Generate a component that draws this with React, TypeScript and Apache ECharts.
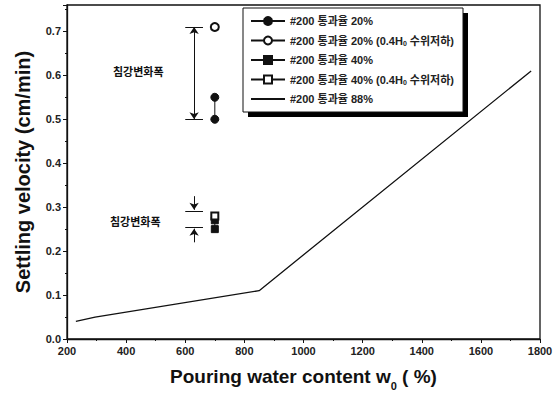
import React, { useEffect, useRef } from "react";
import * as echarts from "echarts";

const FONT = "'Liberation Sans', Arial, 'Noto Sans CJK KR', sans-serif";

// Series data [pouring water content %, settling velocity cm/min]
const pass20: [number, number][] = [[700, 0.55], [700, 0.50]];
const pass20Low: [number, number][] = [[700, 0.71]];
const pass40: [number, number][] = [[700, 0.27], [700, 0.25]];
const pass40Low: [number, number][] = [[700, 0.28]];
const pass88: [number, number][] = [[230, 0.04], [295, 0.05], [850, 0.11], [1770, 0.61]];

const seriesNames = [
  "#200 통과율 20%",
  "#200 통과율 20% (0.4H₀ 수위저하)",
  "#200 통과율 40%",
  "#200 통과율 40% (0.4H₀ 수위저하)",
  "#200 통과율 88%",
];

// Annotation brackets (data coords)
const bigRange = { x: 630, top: 0.71, bottom: 0.50, x0: 600, x1: 660 };
const smallRange = { x: 630, top: 0.29, bottom: 0.255, x0: 600, x1: 660, arrowLen: 0.035 };
const annotationLabel = "침강변화폭";

export default function App() {
  const ref = useRef<HTMLDivElement>(null);
  useEffect(() => {
    if (!ref.current) return;
    const chart = echarts.init(ref.current, undefined, { renderer: "svg" });
    const black = "#111";
    const lineSeries = (name: string, data: [number, number][], symbol: string, size: number) => ({
      name,
      type: "line",
      data,
      symbol,
      symbolSize: size,
      lineStyle: { color: black, width: 1 },
      itemStyle: { color: black, borderColor: black, borderWidth: 1 },
    });
    const plain = { type: "solid", color: black, width: 1 };
    const ml = (a: [number, number], b: [number, number], s0: string, s1: string) => [
      { coord: a, symbol: s0 },
      { coord: b, symbol: s1 },
    ];
    chart.setOption({
      animation: false,
      backgroundColor: "#fff",
      textStyle: { fontFamily: FONT },
      grid: { left: 67, right: 16, top: 5, bottom: 59, show: true, borderColor: black, borderWidth: 1.3, backgroundColor: "transparent" },
      legend: {
        data: seriesNames.map((n, i) => (i === 4 ? { name: n, itemStyle: { opacity: 0 } } : { name: n })),
        orient: "vertical",
        left: 243,
        top: 8,
        itemWidth: 34,
        itemHeight: 10,
        itemGap: 7.5,
        padding: [7, 9, 7, 7],
        backgroundColor: "#fff",
        borderColor: black,
        borderWidth: 1,
        formatter: (name: string) => name.replace("₀", "{sub|0}"),
        textStyle: {
          fontFamily: FONT,
          fontSize: 11,
          lineHeight: 12,
          fontWeight: "bold",
          color: "#222",
          rich: {
            sub: { fontFamily: FONT, fontSize: 7, lineHeight: 5, fontWeight: "bold", color: "#222", verticalAlign: "bottom" },
          },
        },
      },
      xAxis: {
        type: "value",
        min: 200,
        max: 1800,
        interval: 200,
        name: "Pouring water content w{sub|0} ( %)",
        nameLocation: "middle",
        nameGap: 21,
        nameTextStyle: {
          fontSize: 19,
          lineHeight: 31,
          fontWeight: "bold",
          color: "#111",
          fontFamily: FONT,
          rich: { sub: { fontSize: 11, lineHeight: 11, fontWeight: "bold", color: "#111", fontFamily: FONT, verticalAlign: "bottom" } },
        },
        axisLine: { show: true, lineStyle: { color: black, width: 1.3 } },
        axisTick: { show: true, inside: false, length: 4, lineStyle: { color: black } },
        minorTick: { show: true, splitNumber: 2, length: 2, lineStyle: { color: black } },
        splitLine: { show: false },
        axisLabel: { fontSize: 11, fontWeight: "bold", color: "#222", margin: 6, formatter: (v: number) => String(v) },
      },
      yAxis: {
        type: "value",
        min: 0,
        max: 0.76,
        interval: 0.1,
        name: "Settling velocity (cm/min)",
        nameLocation: "middle",
        nameGap: 34,
        nameTextStyle: { fontSize: 20, fontWeight: "bold", color: "#111", fontFamily: FONT },
        axisLine: { show: true, lineStyle: { color: black, width: 1.3 } },
        axisTick: { show: true, inside: false, length: 4, lineStyle: { color: black } },
        minorTick: { show: true, splitNumber: 2, length: 2, lineStyle: { color: black } },
        splitLine: { show: false },
        axisLabel: {
          fontSize: 11,
          fontWeight: "bold",
          color: "#222",
          margin: 6,
          formatter: (v: number) => (Math.abs(v * 10 - Math.round(v * 10)) < 1e-6 ? v.toFixed(1) : ""),
        },
      },
      series: [
        lineSeries(seriesNames[0], pass20, "circle", 8),
        lineSeries(seriesNames[1], pass20Low, "emptyCircle", 8),
        lineSeries(seriesNames[2], pass40, "rect", 7),
        lineSeries(seriesNames[3], pass40Low, "emptyRect", 7),
        { ...lineSeries(seriesNames[4], pass88, "none", 0), showSymbol: false, lineStyle: { color: black, width: 1.3 } },
        {
          name: "annotations",
          type: "line",
          data: [],
          silent: true,
          markLine: {
            silent: true,
            symbolSize: 7,
            label: { show: false },
            lineStyle: plain,
            data: [
              ml([bigRange.x, bigRange.top], [bigRange.x, bigRange.bottom], "arrow", "arrow"),
              ml([bigRange.x0, bigRange.top], [bigRange.x1, bigRange.top], "none", "none"),
              ml([bigRange.x0, bigRange.bottom], [bigRange.x1, bigRange.bottom], "none", "none"),
              ml([smallRange.x0, smallRange.top], [smallRange.x1, smallRange.top], "none", "none"),
              ml([smallRange.x0, smallRange.bottom], [smallRange.x1, smallRange.bottom], "none", "none"),
              ml([smallRange.x, smallRange.top + smallRange.arrowLen], [smallRange.x, smallRange.top + 0.004], "none", "arrow"),
              ml([smallRange.x, smallRange.bottom - smallRange.arrowLen], [smallRange.x, smallRange.bottom - 0.004], "none", "arrow"),
            ],
          },
        },
      ],
      graphic: [
        { type: "polygon", shape: { points: [[463, 13], [468, 13], [468, 117], [248, 117], [248, 112], [463, 112]] }, style: { fill: "#000" } },
        { type: "text", left: 113, top: 66, style: { text: annotationLabel, font: `bold 11px ${FONT}`, fill: "#111" } },
        { type: "text", left: 110, top: 216, style: { text: annotationLabel, font: `bold 11px ${FONT}`, fill: "#111" } },
      ],
    });
    return () => chart.dispose();
  }, []);
  return <div ref={ref} style={{ position: "fixed", left: 0, top: 0, width: 556, height: 398, background: "#fff" }} />;
}
